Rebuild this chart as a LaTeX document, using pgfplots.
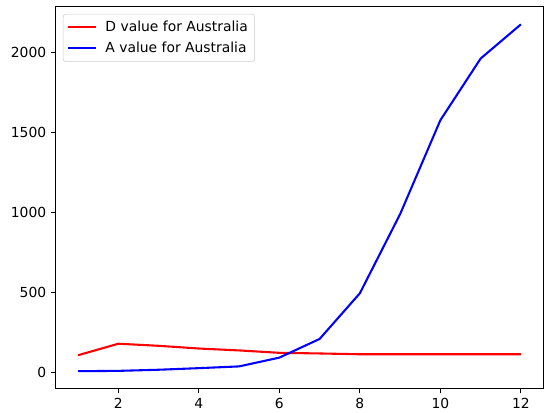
\documentclass[border=0pt]{standalone}
\usepackage{pgfplots}
\pgfplotsset{compat=1.18}
\usepackage{fontspec}
\setmainfont{DejaVu Sans}
\begin{document}
\begin{tikzpicture}
\begin{axis}[
  scale only axis,
  width=351pt, height=275pt,
  xmin=0.45, xmax=12.55,
  ymin=-103, ymax=2287,
  xtick={2,4,6,8,10,12},
  ytick={0,500,1000,1500,2000},
  tick align=outside,
  tick pos=left,
  major tick length=3.5pt,
  every tick/.style={line width=0.8pt, black},
  axis line style={line width=0.8pt},
  tick label style={font=\fontsize{10}{12}\selectfont},
  /pgf/number format/assume math mode=true,
  /pgf/number format/1000 sep={},
  legend cell align=left,
  legend style={at={(0,1)}, xshift=5pt, yshift=-5pt, anchor=north west,
    draw=black!20, rounded corners=2pt, font=\fontsize{10}{12}\selectfont,
    inner xsep=3pt, inner ysep=3pt, row sep=2pt,
    /tikz/every odd column/.append style={column sep=4pt}},
  legend image code/.code={\draw[#1] (0pt,0pt) -- (20pt,0pt);},
]
\addplot[red, line width=1.5pt] coordinates {
(1,106) (2,178) (3,165) (4,148) (5,136) (6,121) (7,117) (8,112) (9,112) (10,112) (11,112) (12,112)};
\addlegendentry{D value for Australia}
\addplot[blue, line width=1.5pt] coordinates {
(1,6) (2,8) (3,15) (4,25) (5,36) (6,91) (7,208) (8,494) (9,990) (10,1578) (11,1964) (12,2178)};
\addlegendentry{A value for Australia}
\end{axis}
\pgfresetboundingbox
\path[use as bounding box] (-40.3pt,-17.5pt) rectangle (352.4pt,280pt);
\end{tikzpicture}
\end{document}
